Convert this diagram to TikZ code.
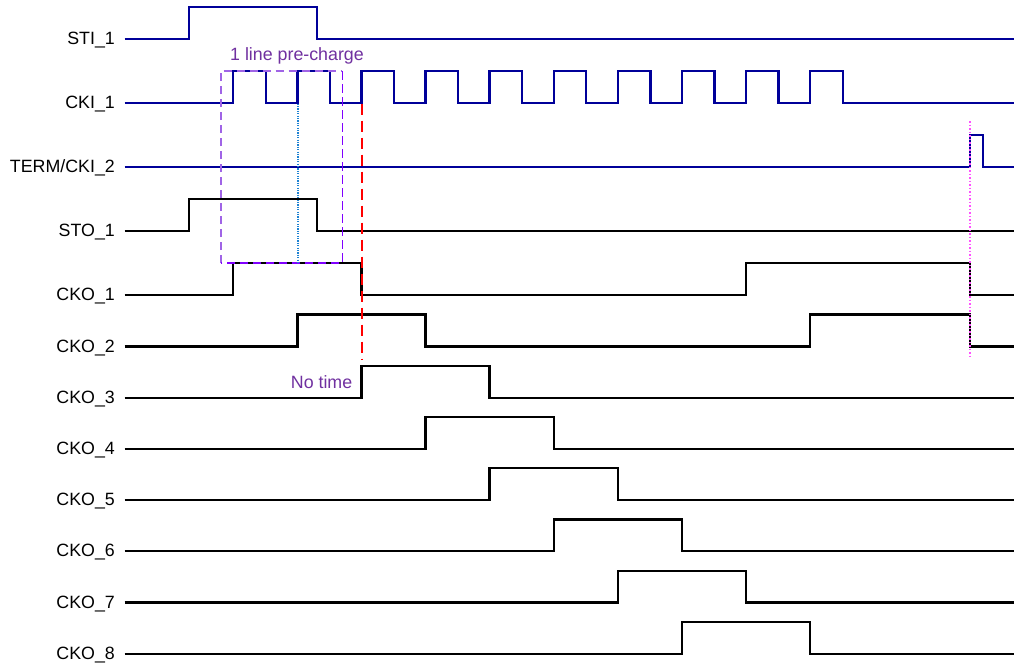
\documentclass[tikz,border=0pt]{standalone}
\usepackage{fontspec}
\setmainfont{Liberation Sans}
\definecolor{sigblue}{RGB}{0,0,153}
\definecolor{txtpurple}{RGB}{112,48,160}
\definecolor{boxpurple}{RGB}{160,100,230}
\definecolor{boxviolet}{RGB}{128,0,255}
\definecolor{dotblue}{RGB}{30,130,210}
\definecolor{pinkdot}{RGB}{255,80,255}
\tikzset{
  sig/.style={line width=2.3pt, line join=miter},
  bsig/.style={sig, draw=sigblue},
  ksig/.style={sig, draw=black},
  lbl/.style={anchor=base east, inner sep=0pt, font=\fontsize{17.8}{20}\selectfont},
  note/.style={anchor=base west, inner sep=0pt, text=txtpurple, font=\fontsize{17.8}{20}\selectfont},
  boxdash/.style={line width=1.6pt, dash pattern=on 8.5pt off 4.5pt},
  reddash/.style={line width=2pt, draw=red, dash pattern=on 11pt off 6pt},
  bluedot/.style={line width=2pt, draw=dotblue, dash pattern=on 1.2pt off 1.2pt},
  pinkdotted/.style={line width=1.8pt, draw=pinkdot, dash pattern=on 1.5pt off 2pt}
}
\begin{document}
\begin{tikzpicture}[x=1pt,y=-1pt]
\useasboundingbox (0,0) rectangle (1014,662);
\fill[white] (0,0) rectangle (1014,662);

% labels
\node[lbl] (lsti)  at (115,44.5)  {STI\_1};
\node[lbl] (lcki)  at (115,108.8) {CKI\_1};
\node[lbl] (lterm) at (115,172.5) {TERM/CKI\_2};
\node[lbl] (lsto)  at (115,236.5) {STO\_1};
\node[lbl] (lcko1) at (115,300.2) {CKO\_1};
\node[lbl] (lcko2) at (115,352)   {CKO\_2};
\node[lbl] (lcko3) at (115,403.2) {CKO\_3};
\node[lbl] (lcko4) at (115,454.2) {CKO\_4};
\node[lbl] (lcko5) at (115,505.5) {CKO\_5};
\node[lbl] (lcko6) at (115,556.8) {CKO\_6};
\node[lbl] (lcko7) at (115,608)   {CKO\_7};
\node[lbl] (lcko8) at (115,659)   {CKO\_8};

% STI_1
\draw[bsig] (124.5,39) -| (189,7) -| (316.7,39) -- (1016,39);
% CKI_1
\draw[bsig] (124.5,103.3)
  \foreach \k in {0,...,9}{ -- ({233.3+64.08*\k},103.3) -- ({233.3+64.08*\k},71) -- ({265.7+64.11*\k},71) -- ({265.7+64.11*\k},103.3)}
  -- (1016,103.3);
% TERM/CKI_2
\draw[bsig] (124.5,167) -| (970,135) -| (983,167) -- (1016,167);
% STO_1
\draw[ksig] (124.5,231) -| (189,199) -| (316.7,231) -- (1016,231);
% CKO_1
\draw[ksig] (124.5,294.7) -| (233.3,263) -| (361.5,294.7) -| (745.9,263) -| (970,294.7) -- (1016,294.7);
% CKO_2
\draw[ksig] (124.5,346.5) -| (297.4,314.5) -| (425.5,346.5) -| (810,314.5) -| (970,346.5) -- (1016,346.5);
% CKO_3
\draw[ksig] (124.5,397.7) -| (361.5,366) -| (489.6,397.7) -- (1016,397.7);
% CKO_4
\draw[ksig] (124.5,448.7) -| (425.5,417) -| (553.7,448.7) -- (1016,448.7);
% CKO_5
\draw[ksig] (124.5,500) -| (489.6,468.3) -| (617.8,500) -- (1016,500);
% CKO_6
\draw[ksig] (124.5,551.3) -| (553.7,519.6) -| (681.9,551.3) -- (1016,551.3);
% CKO_7
\draw[ksig] (124.5,602.5) -| (617.8,570.8) -| (745.9,602.5) -- (1016,602.5);
% CKO_8
\draw[ksig] (124.5,653.7) -| (681.9,622) -| (810,653.7) -- (1016,653.7);

% pre-charge box
\coordinate (bxtl) at (220.7,71);
\coordinate (bxtr) at (342.3,71);
\coordinate (bxbl) at (220.7,263);
\coordinate (bxbr) at (342.3,263);
\draw[boxdash, draw=boxpurple] (bxbl) -- (bxtl) -- (bxtr);
\draw[boxdash, draw=boxviolet] (bxtr) -- (bxbr) -- (bxbl);
\node[note] (pre) at (230,60) {1 line pre-charge};

% markers
\coordinate (bd1) at (297.5,103.5);
\coordinate (bd2) at (297.5,263);
\draw[bluedot] (bd1) -- (bd2);
\coordinate (rd1) at (361.8,103.5);
\coordinate (rd2) at (361.8,359);
\draw[reddash] (rd1) -- (rd2);
\coordinate (pd1) at (970,121);
\coordinate (pd2) at (970,358);
\draw[pinkdotted] (pd1) -- (pd2);
\node[note] (notime) at (290.7,388.3) {No time};
\end{tikzpicture}
\end{document}
